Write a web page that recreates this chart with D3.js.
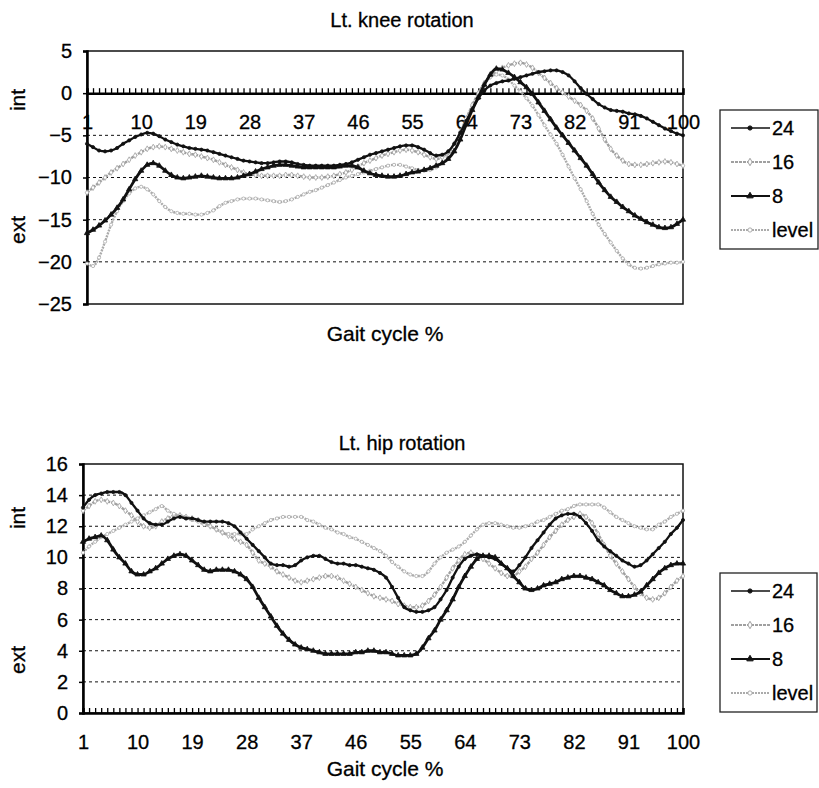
<!DOCTYPE html>
<html>
<head>
<meta charset="utf-8">
<script src="https://cdn.jsdelivr.net/npm/d3@7"></script>
<style>
    body { margin: 0; background: #fff; }
    svg { display: block; font-family: 'Liberation Sans', Arial, sans-serif; }
    svg text { fill: #000; stroke: #000; stroke-width: 0.3px; }
    .grid line { stroke: #111; stroke-width: 1; stroke-dasharray: 3,3; }
    .tick-label { font-size: 20px; }
</style>
</head>
<body>
<div id="chart"></div>
<script>
// gait cycle categories and the labelled ones
const gaitPct = d3.range(1, 101)
const xLabels = [1, 10, 19, 28, 37, 46, 55, 64, 73, 82, 91, 100]
const seriesNames = ['24', '16', '8', 'level']

// Lt. knee rotation (deg)
const kneeTicks = [5, 0, -5, -10, -15, -20, -25]
const knee24 = [-6.0,-6.4,-6.8,-6.9,-6.8,-6.5,-6.0,-5.6,-5.2,-4.9,-4.7,-4.8,-5.1,-5.5,-5.8,-6.1,-6.3,-6.5,-6.6,-6.7,
    -6.8,-7.0,-7.2,-7.4,-7.6,-7.8,-8.0,-8.1,-8.2,-8.3,-8.3,-8.2,-8.1,-8.1,-8.2,-8.4,-8.5,-8.6,-8.6,-8.6,
    -8.6,-8.6,-8.5,-8.4,-8.2,-7.9,-7.6,-7.3,-7.1,-6.9,-6.7,-6.5,-6.3,-6.2,-6.2,-6.4,-6.7,-7.1,-7.4,-7.3,
    -6.9,-6.0,-4.7,-3.3,-1.9,-0.6,0.3,0.9,1.2,1.4,1.5,1.7,1.9,2.1,2.3,2.5,2.6,2.7,2.7,2.5,
    2.1,1.4,0.6,-0.1,-0.7,-1.3,-1.7,-2.0,-2.1,-2.2,-2.4,-2.5,-2.7,-3.0,-3.4,-3.8,-4.2,-4.5,-4.8,-5.0]
const knee16 = [-11.8,-11.2,-10.6,-10.0,-9.4,-8.9,-8.4,-7.9,-7.4,-7.0,-6.6,-6.4,-6.3,-6.4,-6.6,-6.8,-7.0,-7.2,-7.3,-7.5,
    -7.7,-7.9,-8.2,-8.5,-8.8,-9.1,-9.4,-9.6,-9.7,-9.8,-9.8,-9.8,-9.8,-9.7,-9.7,-9.8,-9.9,-10.0,-10.0,-10.0,
    -9.9,-9.8,-9.6,-9.4,-9.1,-8.7,-8.3,-8.0,-7.7,-7.4,-7.2,-7.0,-6.8,-6.7,-6.8,-7.0,-7.3,-7.6,-7.8,-7.6,
    -7.0,-6.0,-4.6,-3.0,-1.4,0.0,1.2,2.0,2.6,3.0,3.3,3.5,3.6,3.4,3.0,2.4,1.8,1.2,0.6,0.1,
    -0.4,-0.9,-1.4,-2.1,-3.0,-4.2,-5.5,-6.6,-7.4,-8.0,-8.4,-8.5,-8.5,-8.4,-8.3,-8.2,-8.1,-8.2,-8.4,-8.6]
const knee8 = [-16.6,-16.2,-15.7,-15.1,-14.4,-13.6,-12.6,-11.4,-10.2,-9.2,-8.5,-8.3,-8.6,-9.2,-9.7,-10.0,-10.1,-10.0,-9.9,-9.8,
    -9.9,-10.0,-10.1,-10.1,-10.1,-10.0,-9.8,-9.6,-9.3,-9.0,-8.8,-8.6,-8.5,-8.5,-8.6,-8.7,-8.8,-8.8,-8.8,-8.8,
    -8.8,-8.8,-8.7,-8.6,-8.6,-8.8,-9.2,-9.5,-9.7,-9.8,-9.9,-9.9,-9.8,-9.6,-9.4,-9.3,-9.1,-8.9,-8.6,-8.3,
    -7.8,-6.9,-5.5,-3.7,-2.0,-0.5,1.0,2.2,2.9,2.8,2.4,1.9,1.3,0.7,-0.1,-1.1,-2.1,-3.1,-4.1,-5.0,
    -5.9,-6.8,-7.7,-8.6,-9.6,-10.6,-11.5,-12.3,-12.9,-13.5,-14.0,-14.5,-14.9,-15.3,-15.6,-15.9,-16.0,-15.9,-15.5,-15.0]
const kneeLevel = [-20.2,-20.5,-19.5,-17.6,-15.6,-14.0,-12.8,-11.9,-11.3,-11.1,-11.4,-12.0,-12.8,-13.5,-14.0,-14.2,-14.3,-14.3,-14.4,-14.4,
    -14.2,-13.9,-13.4,-13.0,-12.8,-12.6,-12.5,-12.5,-12.5,-12.6,-12.7,-12.8,-12.9,-12.8,-12.6,-12.3,-12.0,-11.7,-11.5,-11.2,
    -10.9,-10.6,-10.3,-10.0,-9.8,-9.6,-9.4,-9.2,-9.0,-8.8,-8.6,-8.5,-8.5,-8.7,-8.9,-9.1,-9.2,-9.1,-8.8,-8.3,
    -7.5,-6.4,-5.0,-3.4,-1.8,-0.3,1.0,1.9,2.2,2.1,1.6,0.9,0.2,-0.6,-1.5,-2.6,-3.8,-4.9,-6.0,-7.3,
    -8.7,-10.1,-11.4,-12.8,-14.3,-15.6,-16.7,-17.7,-18.7,-19.6,-20.3,-20.7,-20.8,-20.7,-20.5,-20.3,-20.2,-20.1,-20.1,-20.0]

// Lt. hip rotation (deg)
const hipTicks = [0, 2, 4, 6, 8, 10, 12, 14, 16]
const hip24 = [13.2,13.7,14.0,14.1,14.2,14.2,14.2,14.0,13.5,13.0,12.5,12.2,12.1,12.1,12.3,12.5,12.6,12.5,12.5,12.4,
    12.3,12.3,12.3,12.3,12.2,12.0,11.6,11.2,10.8,10.4,10.0,9.6,9.5,9.5,9.4,9.5,9.8,10.0,10.1,10.1,
    9.9,9.7,9.6,9.6,9.5,9.5,9.4,9.3,9.2,9.0,8.7,8.1,7.4,6.8,6.6,6.5,6.5,6.6,6.8,7.3,
    7.9,8.7,9.4,9.9,10.1,10.2,10.1,10.0,9.9,9.6,9.3,9.1,9.5,10.0,10.6,11.1,11.6,12.1,12.5,12.7,
    12.8,12.8,12.6,12.2,11.7,11.1,10.7,10.4,10.1,9.8,9.6,9.4,9.5,9.8,10.2,10.6,11.0,11.5,11.9,12.4]
const hip16 = [13.0,13.3,13.6,13.7,13.6,13.5,13.3,13.0,12.7,12.3,12.0,11.9,12.0,12.3,12.5,12.7,12.7,12.6,12.5,12.4,
    12.2,12.0,11.8,11.6,11.4,11.2,11.0,10.8,10.3,9.8,9.6,9.4,9.1,8.9,8.7,8.5,8.4,8.5,8.6,8.7,
    8.8,8.8,8.7,8.5,8.3,8.1,7.9,7.7,7.5,7.4,7.3,7.2,7.0,6.9,6.8,6.8,6.9,7.2,7.6,8.1,
    8.7,9.3,9.8,10.2,10.3,10.1,9.9,9.6,9.3,9.0,8.8,8.8,9.1,9.4,9.9,10.3,10.8,11.3,11.7,12.1,
    12.4,12.6,12.8,12.6,12.2,11.5,10.8,10.1,9.6,9.1,8.6,8.1,7.7,7.4,7.3,7.4,7.7,8.1,8.5,8.8]
const hip8 = [11.0,11.2,11.3,11.4,11.1,10.5,10.0,9.6,9.1,8.9,8.9,9.1,9.3,9.6,9.9,10.1,10.2,10.1,9.8,9.5,
    9.2,9.1,9.2,9.2,9.2,9.1,8.9,8.6,8.1,7.4,6.8,6.2,5.6,5.1,4.7,4.4,4.2,4.1,4.0,3.9,
    3.8,3.8,3.8,3.8,3.8,3.9,3.9,4.0,4.0,3.9,3.9,3.8,3.7,3.7,3.7,3.8,4.2,4.8,5.3,6.0,
    6.6,7.3,8.1,8.8,9.4,9.9,10.1,10.1,10.0,9.6,9.3,8.8,8.4,8.0,7.9,8.0,8.2,8.3,8.4,8.6,
    8.7,8.8,8.8,8.7,8.6,8.4,8.2,7.9,7.7,7.5,7.5,7.6,7.8,8.2,8.6,9.0,9.3,9.5,9.6,9.6]
const hipLevel = [10.3,10.7,11.0,11.3,11.5,11.7,11.9,12.1,12.3,12.5,12.7,12.9,13.1,13.3,13.0,12.8,12.7,12.5,12.4,12.3,
    12.1,12.0,11.8,11.6,11.5,11.5,11.5,11.5,11.8,12.0,12.2,12.4,12.5,12.6,12.6,12.6,12.6,12.4,12.3,12.1,
    11.9,11.8,11.6,11.5,11.3,11.2,11.0,10.8,10.6,10.4,10.1,9.7,9.4,9.1,8.9,8.8,8.8,9.1,9.6,10.0,
    10.3,10.5,10.7,11.0,11.4,11.8,12.1,12.2,12.2,12.1,12.0,11.9,11.9,12.0,12.1,12.3,12.4,12.6,12.8,13.0,
    13.1,13.3,13.4,13.4,13.4,13.4,13.2,12.9,12.6,12.4,12.2,12.0,11.9,11.8,11.8,12.1,12.3,12.6,12.8,13.0]

// line look per series
const styles = {
    '24':    { color: '#111', width: 2.3, dash: null,  symbol: d3.symbolCircle,   size: 8,  fill: '#111' },
    '16':    { color: '#a0a0a0', width: 2.4, dash: '3,1', symbol: d3.symbolDiamond, size: 10, fill: '#fff' },
    '8':     { color: '#111', width: 2.8, dash: null,  symbol: d3.symbolTriangle, size: 12, fill: '#111' },
    'level': { color: '#ababab', width: 2.4, dash: '2,1', symbol: d3.symbolCircle, size: 8,  fill: '#fff' },
}

let svg = d3.select('#chart')
    .append('svg')
    .attr('width', 819)
    .attr('height', 788)

drawChart({
    box: { left: 87, right: 683, top: 51, bottom: 304 },
    domain: [-25, 5],
    ticks: kneeTicks,
    series: [knee24, knee16, knee8, kneeLevel],
    title: 'Lt. knee rotation', titleY: 27,
    axisLabelY: 341,
    intY: 100, extY: 230,
    legend: { x: 720, y: 110, w: 98, h: 139 },
})

drawChart({
    box: { left: 83, right: 683, top: 464, bottom: 713 },
    domain: [0, 16],
    ticks: hipTicks,
    series: [hip24, hip16, hip8, hipLevel],
    title: 'Lt. hip rotation', titleY: 450,
    axisLabelY: 776,
    intY: 518, extY: 660,
    legend: { x: 720, y: 573, w: 97, h: 139 },
})

// FUNCTIONS
function drawChart(cfg) {
    let b = cfg.box
    let g = svg.append('g')

    let x = d3.scaleLinear()
        .domain([1, 100])
        .range([b.left, b.right])

    let y = d3.scaleLinear()
        .domain(cfg.domain)
        .range([b.bottom, b.top])

    // dotted gridlines
    g.append('g')
        .attr('class', 'grid')
        .selectAll('line')
        .data(cfg.ticks.filter(t => t !== 0 && t !== cfg.domain[0] && t !== cfg.domain[1]))
        .join('line')
        .attr('x1', b.left)
        .attr('x2', b.right)
        .attr('y1', d => y(d))
        .attr('y2', d => y(d))

    // plot border
    g.append('rect')
        .attr('x', b.left)
        .attr('y', b.top)
        .attr('width', b.right - b.left)
        .attr('height', b.bottom - b.top)
        .attr('fill', 'none')
        .attr('stroke', '#111')
        .attr('stroke-width', 1.5)

    // y axis
    let yAxis = g.append('g')
        .attr('transform', `translate(${b.left}, 0)`)
        .call(d3.axisLeft(y).tickValues(cfg.ticks).tickSize(4).tickPadding(11).tickFormat(d3.format('d')))
    yAxis.select('.domain').attr('stroke', '#000').attr('stroke-width', 2.5)
    yAxis.selectAll('.tick line').attr('stroke', '#000').attr('stroke-width', 1.5)
    yAxis.selectAll('text').attr('class', 'tick-label')

    // category axis crossing at zero
    let xAxis = g.append('g')
        .attr('transform', `translate(0, ${y(0)})`)
        .call(d3.axisBottom(x)
            .tickValues(gaitPct)
            .tickSize(-5)
            .tickPadding(22)
            .tickFormat(d => xLabels.includes(d) ? d : ''))
    xAxis.select('.domain').attr('stroke', '#000').attr('stroke-width', 2.5)
    xAxis.selectAll('.tick line').attr('stroke', '#000').attr('stroke-width', 1.3)
    xAxis.selectAll('text').attr('class', 'tick-label')

    // lines + markers
    let line = d3.line()
        .x((d, i) => x(gaitPct[i]))
        .y(d => y(d))
        .curve(d3.curveMonotoneX)

    let order = [1, 3, 0, 2] // grays under blacks
    order.forEach(k => {
        let s = styles[seriesNames[k]]
        let values = cfg.series[k]
        g.append('path')
            .datum(values)
            .attr('d', line)
            .attr('fill', 'none')
            .attr('stroke', s.color)
            .attr('stroke-width', s.width)
            .attr('stroke-dasharray', s.dash)

        g.append('g')
            .selectAll('path')
            .data(values)
            .join('path')
            .attr('d', d3.symbol().type(s.symbol).size(s.size))
            .attr('transform', (d, i) => `translate(${x(gaitPct[i])}, ${y(d)})`)
            .attr('fill', s.fill)
            .attr('stroke', s.color)
            .attr('stroke-width', 0.8)
    })

    // title and axis labels
    svg.append('text')
        .text(cfg.title)
        .attr('x', 402)
        .attr('y', cfg.titleY)
        .attr('text-anchor', 'middle')
        .style('font-size', '20px')

    svg.append('text')
        .text('Gait cycle %')
        .attr('x', 385)
        .attr('y', cfg.axisLabelY)
        .attr('text-anchor', 'middle')
        .style('font-size', '21px')

    ;[['int', cfg.intY], ['ext', cfg.extY]].forEach(([txt, cy]) => {
        svg.append('text')
            .text(txt)
            .attr('transform', `translate(25, ${cy}) rotate(-90)`)
            .attr('text-anchor', 'middle')
            .style('font-size', '21px')
    })

    // legend
    let L = cfg.legend
    let lg = svg.append('g').attr('transform', `translate(${L.x}, ${L.y})`)
    lg.append('rect')
        .attr('width', L.w)
        .attr('height', L.h)
        .attr('fill', '#fff')
        .attr('stroke', '#222')
        .attr('stroke-width', 1.3)

    seriesNames.forEach((name, k) => {
        let s = styles[name]
        let cy = 18 + k * 34
        lg.append('line')
            .attr('x1', 11).attr('x2', 50)
            .attr('y1', cy).attr('y2', cy)
            .attr('stroke', s.color)
            .attr('stroke-width', s.width - 0.6)
            .attr('stroke-dasharray', s.dash)
        lg.append('path')
            .attr('d', d3.symbol().type(s.symbol).size(s.size + 6))
            .attr('transform', `translate(30, ${cy})`)
            .attr('fill', s.fill)
            .attr('stroke', s.color)
        lg.append('text')
            .text(name)
            .attr('x', 52)
            .attr('y', cy)
            .attr('dy', '0.36em')
            .style('font-size', '20px')
    })
}
</script>
</body>
</html>
